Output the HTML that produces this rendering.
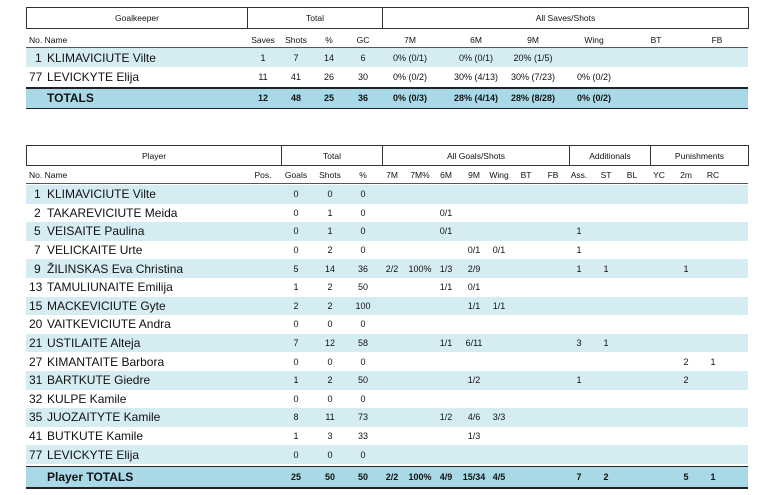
<!DOCTYPE html>
<html><head><meta charset="utf-8"><style>
body{margin:0;width:775px;height:495px;background:#fff;position:relative;overflow:hidden;font-family:"Liberation Sans",Arial,sans-serif;color:#111}
.box{position:absolute;border:1.5px solid #333;box-sizing:border-box;display:flex}
.box div{border-right:1.5px solid #333;font-size:8.5px;text-align:center;display:flex;align-items:center;justify-content:center}
.box div:last-child{border-right:none}
.r{position:absolute;left:26px;width:722px}
.b{background:#d5ecf3}
.t{background:#a9d9e6;font-weight:bold}
.c{position:absolute;width:50px;margin-left:-25px;text-align:center;font-size:9px;top:0;height:100%;display:flex;align-items:center;justify-content:center}
.h .c{font-size:8.5px}
.n{position:absolute;font-size:12px;top:0;height:100%;display:flex;align-items:center}
.line{position:absolute;left:26px;width:722px;background:#222}
</style></head><body>

<!-- TABLE 1 -->
<div class="box" style="left:26px;top:7px;width:723px;height:22px">
<div style="width:220px">Goalkeeper</div><div style="width:134px">Total</div><div style="flex:1">All Saves/Shots</div></div>

<div class="r h" style="top:31px;height:17px">
<div class="n" style="left:3px;font-size:8.5px">No. Name</div>
<div class="c" style="left:237px">Saves</div><div class="c" style="left:270px">Shots</div><div class="c" style="left:303px">%</div><div class="c" style="left:337px">GC</div>
<div class="c" style="left:384px">7M</div><div class="c" style="left:450px">6M</div><div class="c" style="left:507px">9M</div><div class="c" style="left:568px">Wing</div><div class="c" style="left:630px">BT</div><div class="c" style="left:691px">FB</div>
</div>
<div class="line" style="top:47px;height:1px;background:#555"></div>

<div class="r b" style="top:48px;height:19px">
<div class="n" style="left:9px">1</div><div class="n" style="left:21px">KLIMAVICIUTE Vilte</div>
<div class="c" style="left:237px">1</div><div class="c" style="left:270px">7</div><div class="c" style="left:303px">14</div><div class="c" style="left:337px">6</div>
<div class="c" style="left:384px">0% (0/1)</div><div class="c" style="left:450px">0% (0/1)</div><div class="c" style="left:507px">20% (1/5)</div>
</div>
<div class="r" style="top:67px;height:19px">
<div class="n" style="left:3px">77</div><div class="n" style="left:21px">LEVICKYTE Elija</div>
<div class="c" style="left:237px">11</div><div class="c" style="left:270px">41</div><div class="c" style="left:303px">26</div><div class="c" style="left:337px">30</div>
<div class="c" style="left:384px">0% (0/2)</div><div class="c" style="left:450px">30% (4/13)</div><div class="c" style="left:507px">30% (7/23)</div><div class="c" style="left:568px">0% (0/2)</div>
</div>
<div class="line" style="top:87px;height:1.5px"></div>
<div class="r t" style="top:88.5px;height:19px">
<div class="n" style="left:21px;font-size:12px">TOTALS</div>
<div class="c" style="left:237px">12</div><div class="c" style="left:270px">48</div><div class="c" style="left:303px">25</div><div class="c" style="left:337px">36</div>
<div class="c" style="left:384px">0% (0/3)</div><div class="c" style="left:450px">28% (4/14)</div><div class="c" style="left:507px">28% (8/28)</div><div class="c" style="left:568px">0% (0/2)</div>
</div>
<div class="line" style="top:107.5px;height:1.5px"></div>

<!-- TABLE 2 -->
<div class="box" style="left:26px;top:145px;width:723px;height:21px">
<div style="width:254px">Player</div><div style="width:100px">Total</div><div style="width:186px">All Goals/Shots</div><div style="width:80px">Additionals</div><div style="flex:1">Punishments</div></div>

<div class="r h" style="top:167px;height:16px">
<div class="n" style="left:3px;font-size:8.5px">No. Name</div>
<div class="c" style="left:237px">Pos.</div><div class="c" style="left:270px">Goals</div><div class="c" style="left:304px">Shots</div><div class="c" style="left:337px">%</div>
<div class="c" style="left:366px">7M</div><div class="c" style="left:394px">7M%</div><div class="c" style="left:420px">6M</div><div class="c" style="left:448px">9M</div><div class="c" style="left:473px">Wing</div><div class="c" style="left:500px">BT</div><div class="c" style="left:527px">FB</div>
<div class="c" style="left:553px">Ass.</div><div class="c" style="left:580px">ST</div><div class="c" style="left:606px">BL</div><div class="c" style="left:633px">YC</div><div class="c" style="left:660px">2m</div><div class="c" style="left:687px">RC</div>
</div>
<div class="line" style="top:183px;height:1px;background:#555"></div>

<div class="r b" style="top:185px;height:18.6px"><div class="n" style="left:8px">1</div><div class="n" style="left:21px">KLIMAVICIUTE Vilte</div><div class="c" style="left:270px">0</div><div class="c" style="left:304px">0</div><div class="c" style="left:337px">0</div></div>
<div class="r" style="top:203.6px;height:18.6px"><div class="n" style="left:8px">2</div><div class="n" style="left:21px">TAKAREVICIUTE Meida</div><div class="c" style="left:270px">0</div><div class="c" style="left:304px">1</div><div class="c" style="left:337px">0</div><div class="c" style="left:420px">0/1</div></div>
<div class="r b" style="top:222.2px;height:18.6px"><div class="n" style="left:8px">5</div><div class="n" style="left:21px">VEISAITE Paulina</div><div class="c" style="left:270px">0</div><div class="c" style="left:304px">1</div><div class="c" style="left:337px">0</div><div class="c" style="left:420px">0/1</div><div class="c" style="left:553px">1</div></div>
<div class="r" style="top:240.8px;height:18.6px"><div class="n" style="left:8px">7</div><div class="n" style="left:21px">VELICKAITE Urte</div><div class="c" style="left:270px">0</div><div class="c" style="left:304px">2</div><div class="c" style="left:337px">0</div><div class="c" style="left:448px">0/1</div><div class="c" style="left:473px">0/1</div><div class="c" style="left:553px">1</div></div>
<div class="r b" style="top:259.4px;height:18.6px"><div class="n" style="left:8px">9</div><div class="n" style="left:21px">ŽILINSKAS Eva Christina</div><div class="c" style="left:270px">5</div><div class="c" style="left:304px">14</div><div class="c" style="left:337px">36</div><div class="c" style="left:366px">2/2</div><div class="c" style="left:394px">100%</div><div class="c" style="left:420px">1/3</div><div class="c" style="left:448px">2/9</div><div class="c" style="left:553px">1</div><div class="c" style="left:580px">1</div><div class="c" style="left:660px">1</div></div>
<div class="r" style="top:278px;height:18.6px"><div class="n" style="left:3px">13</div><div class="n" style="left:21px">TAMULIUNAITE Emilija</div><div class="c" style="left:270px">1</div><div class="c" style="left:304px">2</div><div class="c" style="left:337px">50</div><div class="c" style="left:420px">1/1</div><div class="c" style="left:448px">0/1</div></div>
<div class="r b" style="top:296.6px;height:18.6px"><div class="n" style="left:3px">15</div><div class="n" style="left:21px">MACKEVICIUTE Gyte</div><div class="c" style="left:270px">2</div><div class="c" style="left:304px">2</div><div class="c" style="left:337px">100</div><div class="c" style="left:448px">1/1</div><div class="c" style="left:473px">1/1</div></div>
<div class="r" style="top:315.2px;height:18.6px"><div class="n" style="left:3px">20</div><div class="n" style="left:21px">VAITKEVICIUTE Andra</div><div class="c" style="left:270px">0</div><div class="c" style="left:304px">0</div><div class="c" style="left:337px">0</div></div>
<div class="r b" style="top:333.8px;height:18.6px"><div class="n" style="left:3px">21</div><div class="n" style="left:21px">USTILAITE Alteja</div><div class="c" style="left:270px">7</div><div class="c" style="left:304px">12</div><div class="c" style="left:337px">58</div><div class="c" style="left:420px">1/1</div><div class="c" style="left:448px">6/11</div><div class="c" style="left:553px">3</div><div class="c" style="left:580px">1</div></div>
<div class="r" style="top:352.4px;height:18.6px"><div class="n" style="left:3px">27</div><div class="n" style="left:21px">KIMANTAITE Barbora</div><div class="c" style="left:270px">0</div><div class="c" style="left:304px">0</div><div class="c" style="left:337px">0</div><div class="c" style="left:660px">2</div><div class="c" style="left:687px">1</div></div>
<div class="r b" style="top:371px;height:18.6px"><div class="n" style="left:3px">31</div><div class="n" style="left:21px">BARTKUTE Giedre</div><div class="c" style="left:270px">1</div><div class="c" style="left:304px">2</div><div class="c" style="left:337px">50</div><div class="c" style="left:448px">1/2</div><div class="c" style="left:553px">1</div><div class="c" style="left:660px">2</div></div>
<div class="r" style="top:389.6px;height:18.6px"><div class="n" style="left:3px">32</div><div class="n" style="left:21px">KULPE Kamile</div><div class="c" style="left:270px">0</div><div class="c" style="left:304px">0</div><div class="c" style="left:337px">0</div></div>
<div class="r b" style="top:408.2px;height:18.6px"><div class="n" style="left:3px">35</div><div class="n" style="left:21px">JUOZAITYTE Kamile</div><div class="c" style="left:270px">8</div><div class="c" style="left:304px">11</div><div class="c" style="left:337px">73</div><div class="c" style="left:420px">1/2</div><div class="c" style="left:448px">4/6</div><div class="c" style="left:473px">3/3</div></div>
<div class="r" style="top:426.8px;height:18.6px"><div class="n" style="left:3px">41</div><div class="n" style="left:21px">BUTKUTE Kamile</div><div class="c" style="left:270px">1</div><div class="c" style="left:304px">3</div><div class="c" style="left:337px">33</div><div class="c" style="left:448px">1/3</div></div>
<div class="r b" style="top:445.4px;height:18.6px"><div class="n" style="left:3px">77</div><div class="n" style="left:21px">LEVICKYTE Elija</div><div class="c" style="left:270px">0</div><div class="c" style="left:304px">0</div><div class="c" style="left:337px">0</div></div>

<div class="line" style="top:465.5px;height:1.5px"></div>
<div class="r t" style="top:467px;height:20px"><div class="n" style="left:21px">Player TOTALS</div><div class="c" style="left:270px">25</div><div class="c" style="left:304px">50</div><div class="c" style="left:337px">50</div><div class="c" style="left:366px">2/2</div><div class="c" style="left:394px">100%</div><div class="c" style="left:420px">4/9</div><div class="c" style="left:448px">15/34</div><div class="c" style="left:473px">4/5</div><div class="c" style="left:553px">7</div><div class="c" style="left:580px">2</div><div class="c" style="left:660px">5</div><div class="c" style="left:687px">1</div></div>
<div class="line" style="top:487px;height:1.5px"></div>
</body></html>
